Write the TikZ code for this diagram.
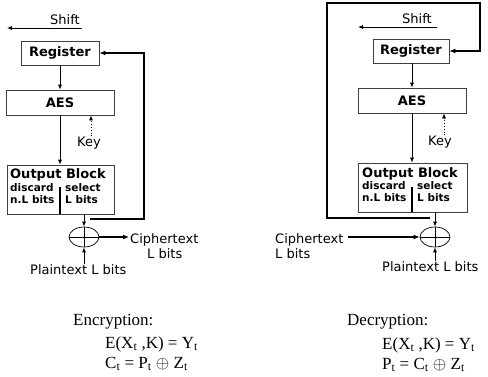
\documentclass[tikz,border=0pt]{standalone}
\usepackage{fontspec}
\setmainfont{Liberation Serif}
\newfontfamily\labfont{DejaVu Sans}
\usetikzlibrary{shapes.geometric,arrows.meta}

\begin{document}
\begin{tikzpicture}[x=1pt,y=-1pt,
  unit/.style={draw=black!75, line width=0.6pt, inner sep=0pt,
    font=\labfont\bfseries\fontsize{13}{15}\selectfont},
  lbl/.style={inner sep=0pt, anchor=base west,
    font=\labfont\fontsize{13}{15}\selectfont},
  boldlbl/.style={inner sep=0pt, anchor=base west,
    font=\labfont\bfseries\fontsize{13}{15}\selectfont},
  small/.style={inner sep=0pt, anchor=base west,
    font=\labfont\bfseries\fontsize{10.5}{12}\selectfont},
  flow/.style={line width=0.8pt, -{Latex[length=5pt,width=4pt]}},
  feed/.style={line width=1.8pt, -{Latex[length=6pt,width=5pt]}},
  keyflow/.style={line width=0.9pt, dotted, -{Latex[length=5pt,width=4pt]}},
  divider/.style={line width=1.6pt},
  xorop/.style={ellipse, draw, line width=0.7pt, minimum width=30pt,
    minimum height=20pt, inner sep=0pt},
  eq/.style={anchor=base west, inner sep=0pt,
    font=\fontsize{17}{20}\selectfont}
]
\useasboundingbox (0,0) rectangle (488,376);

% ---------------- encryption (left) ----------------
\node[lbl] (shiftL) at (50,24) {Shift};
\coordinate (shLa) at (82,28);
\coordinate (shLb) at (7,28);
\draw[flow] (shLa) -- (shLb);

\node[unit, minimum width=78pt, minimum height=24pt] (regL) at (60,53) {Register};
\node[unit, minimum width=108pt, minimum height=25pt] (aesL) at (60,102.5) {AES};
\node[unit, minimum width=107pt, minimum height=49pt] (obL) at (60.5,189.5) {};
\node[boldlbl] (obLt) at (10,178) {Output Block};
\node[small] (discL) at (10,191) {discard};
\node[small] (nlL) at (10,203) {n.L bits};
\node[small] (selL) at (65,191) {select};
\node[small] (lbL) at (65,203) {L bits};
\coordinate (dvL) at (60,187);
\draw[divider] (dvL) -- (dvL |- obL.south);

\node[lbl] (keyL) at (77,146) {Key};
\draw[keyflow] ([xshift=2pt]keyL.north) -- ([xshift=2pt]keyL.north |- aesL.south);

\draw[flow] (regL.south) -- (aesL.north);
\draw[flow] (aesL.south) -- (aesL.south |- obL.north);

\node[xorop] (xorL) at (84,237) {};
\draw[line width=0.7pt] (xorL.north) -- (xorL.south) (xorL.west) -- (xorL.east);
\draw[flow] (xorL.north |- obL.south) -- (xorL.north);

\node[lbl] (ctL) at (130,243) {Ciphertext};
\node[lbl] (ctLb) at (147,258) {L bits};
\draw[feed, shorten >=1pt] (xorL.east) -- (xorL.east -| ctL.west);

\node[lbl] (ptL) at (30,274) {Plaintext L bits};
\draw[flow] (xorL.south |- ptL.north) -- (xorL.south);

\coordinate (fbL) at (90,219);
\draw[feed] (fbL) -- ++(54,0) |- (regL.east);

% ---------------- decryption (right) ----------------
\node[lbl] (shiftR) at (402,23) {Shift};
\coordinate (shRa) at (437,27);
\coordinate (shRb) at (358,27);
\draw[flow] (shRa) -- (shRb);

\node[unit, minimum width=76pt, minimum height=24pt] (regR) at (411,51) {Register};
\node[unit, minimum width=108pt, minimum height=25pt] (aesR) at (412,100.5) {AES};
\node[unit, minimum width=109pt, minimum height=49pt] (obR) at (412.5,187.5) {};
\node[boldlbl] (obRt) at (362,177) {Output Block};
\node[small] (discR) at (362,189) {discard};
\node[small] (nlR) at (362,201) {n.L bits};
\node[small] (selR) at (417,189) {select};
\node[small] (lbR) at (417,201) {L bits};
\coordinate (dvR) at (412,187);
\draw[divider] (dvR) -- (dvR |- obR.south);

\node[lbl] (keyR) at (428,145) {Key};
\draw[keyflow] ([xshift=4pt]keyR.north) -- ([xshift=4pt]keyR.north |- aesR.south);

\draw[flow] (aesR.north |- regR.south) -- (aesR.north);
\draw[flow] (aesR.south) -- (aesR.south |- obR.north);

\node[xorop] (xorR) at (435,237) {};
\draw[line width=0.7pt] (xorR.north) -- (xorR.south) (xorR.west) -- (xorR.east);
\draw[flow] (xorR.north |- obR.south) -- (xorR.north);

\node[lbl] (ctR) at (275,243) {Ciphertext};
\node[lbl] (ctRb) at (275,258) {L bits};
\draw[feed, shorten <=4pt] (ctR.east |- xorR.west) -- (xorR.west);

\node[lbl] (ptR) at (382,271) {Plaintext L bits};
\draw[flow] (xorR.south |- ptR.north) -- (xorR.south);

\coordinate (fbR) at (430,218);
\draw[feed] (fbR) -| (327,3) -| ([xshift=31pt]regR.east) -- (regR.east);

% ---------------- equations ----------------
\node[eq] (encT) at (73,325) {Encryption:};
\node[eq] (encA) at (105,348) {E(X\textsubscript{t} ,K) = Y\textsubscript{t}};
\node[eq] (encB) at (105,368) {C\textsubscript{t} = P\textsubscript{t} $\oplus$ Z\textsubscript{t}};

\node[eq] (decT) at (347,325) {Decryption:};
\node[eq] (decA) at (382,349) {E(X\textsubscript{t} ,K) = Y\textsubscript{t}};
\node[eq] (decB) at (382,369) {P\textsubscript{t} = C\textsubscript{t} $\oplus$ Z\textsubscript{t}};
\end{tikzpicture}
\end{document}
